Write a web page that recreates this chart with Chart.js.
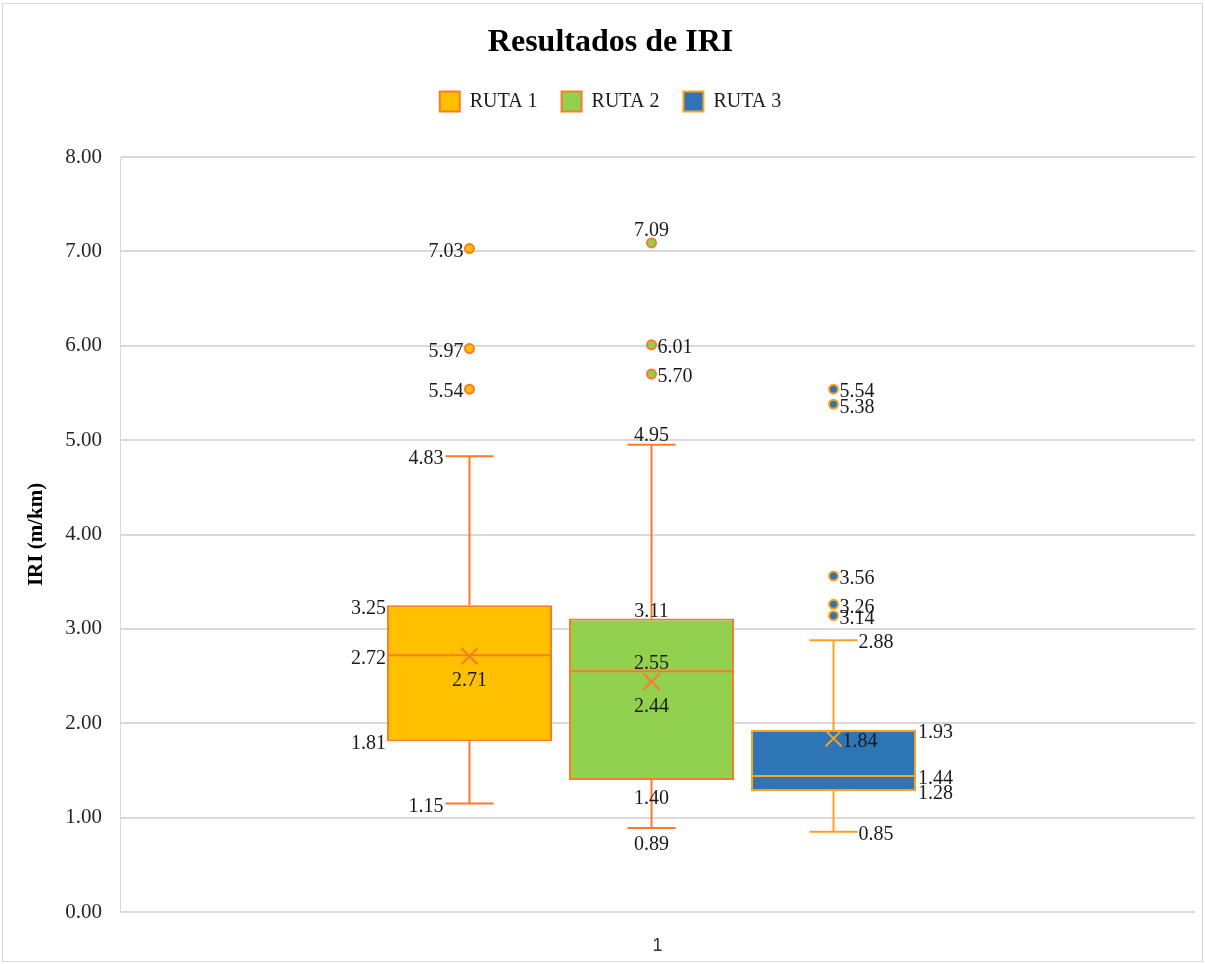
<!DOCTYPE html>
<html>
<head>
<meta charset="utf-8">
<script src="https://cdn.jsdelivr.net/npm/chart.js@4.4.1/dist/chart.umd.min.js"></script>
<style>
html,body{margin:0;padding:0;background:#fff;}
canvas{display:block;}
</style>
</head>
<body>
<canvas id="c" width="1205" height="964"></canvas>
<script>
// ---------- DATA ----------
const categories = ['1'];
const seriesNames = ['RUTA 1', 'RUTA 2', 'RUTA 3'];
const minValues    = [1.15, 0.89, 0.85];
const q1Values     = [1.81, 1.40, 1.28];
const medianValues = [2.72, 2.55, 1.44];
const q3Values     = [3.25, 3.11, 1.93];
const maxValues    = [4.83, 4.95, 2.88];
const meanValues   = [2.71, 2.44, 1.84];
const outliersRuta1 = [5.54, 5.97, 7.03];
const outliersRuta2 = [5.70, 6.01, 7.09];
const outliersRuta3 = [3.14, 3.26, 3.56, 5.38, 5.54];
const outlierValues = [outliersRuta1, outliersRuta2, outliersRuta3];
const yTickValues = [0, 1, 2, 3, 4, 5, 6, 7, 8];

// ---------- STYLE ----------
const boxFill   = ['#FFC000', '#92D050', '#2E75B6'];
const boxBorder = ['#FB7B26', '#FB7B26', '#FCA21E'];
const SERIF = "'Liberation Serif', 'Times New Roman', serif";
const LABEL_FONT = "20px " + SERIF;
const LABEL_COLOR = '#1a1a1a';
const LABEL_DY = 3;
const PLOT_TOP = 157;
const TITLE_H = 24 + 32 * 1.2 + 5;
const HEADER_SHIFT = 13;   // title/legend centred slightly right of canvas centre
const BOX_AREA_TRIM = 12;  // boxes sit slightly left of the category centre
// label placement per series: left / right / above / below
const labelPlacement = [
  {out: ['left', 'left', 'left'], max: 'left', q3: 'left', med: 'left', q1: 'left', min: 'left', mean: 'below'},
  {out: ['right', 'right', 'above'], max: 'above', q3: 'above', med: 'above', q1: 'below', min: 'below', mean: 'below'},
  {out: ['right', 'right', 'right', 'right', 'right'], max: 'right', q3: 'right', med: 'right', q1: 'right', min: 'right', mean: 'right'}
];

const framePlugin = {
  id: 'frame',
  beforeUpdate(chart) {
    const lg = chart.legend;
    if (lg && !lg._patched) {
      const origFit = lg.fit;
      lg.fit = function () { origFit.call(this); this.height = PLOT_TOP - TITLE_H; };
      lg._patched = true;
    }
  },
  afterLayout(chart) {
    if (chart.legend) { chart.legend.left += HEADER_SHIFT; chart.legend.right += HEADER_SHIFT; }
    if (chart.titleBlock) { chart.titleBlock.left += HEADER_SHIFT; chart.titleBlock.right += HEADER_SHIFT; }
    const xb = chart.scales.xb;
    if (xb) { xb.right -= BOX_AREA_TRIM; xb.width = xb.right - xb.left; xb.configure(); }
  },
  beforeDraw(chart) {
    const ctx = chart.ctx;
    ctx.save();
    ctx.fillStyle = '#ffffff';
    ctx.fillRect(0, 0, chart.width, chart.height);
    ctx.strokeStyle = '#d9d9d9';
    ctx.lineWidth = 1;
    ctx.strokeRect(2.5, 3.5, chart.width - 5, chart.height - 6);
    ctx.restore();
  }
};

const boxPlotPlugin = {
  id: 'boxplot',
  afterDatasetsDraw(chart) {
    const ctx = chart.ctx;
    const ys = chart.scales.y;
    const line = (x1, y1, x2, y2) => { ctx.beginPath(); ctx.moveTo(x1, y1); ctx.lineTo(x2, y2); ctx.stroke(); };
    seriesNames.forEach((name, i) => {
      const bar = chart.getDatasetMeta(i).data[0];
      const cx = bar.x;
      const half = bar.width / 2;
      const cap = bar.width * 0.146;
      const yMin = ys.getPixelForValue(minValues[i]);
      const yQ1 = ys.getPixelForValue(q1Values[i]);
      const yMed = ys.getPixelForValue(medianValues[i]);
      const yQ3 = ys.getPixelForValue(q3Values[i]);
      const yMax = ys.getPixelForValue(maxValues[i]);
      const yMean = ys.getPixelForValue(meanValues[i]);
      ctx.save();
      ctx.strokeStyle = boxBorder[i];
      ctx.lineWidth = 2;
      // whiskers
      line(cx, yQ3, cx, yMax);
      line(cx - cap, yMax, cx + cap, yMax);
      line(cx, yQ1, cx, yMin);
      line(cx - cap, yMin, cx + cap, yMin);
      // median
      line(cx - half + 1, yMed, cx + half - 1, yMed);
      // mean marker
      const m = 8;
      line(cx - m, yMean - m, cx + m, yMean + m);
      line(cx - m, yMean + m, cx + m, yMean - m);
      // outliers
      outlierValues[i].forEach(v => {
        const py = ys.getPixelForValue(v);
        ctx.beginPath();
        ctx.arc(cx, py, 4.5, 0, Math.PI * 2);
        ctx.fillStyle = boxFill[i];
        ctx.fill();
        ctx.stroke();
      });
      // labels
      ctx.font = LABEL_FONT;
      ctx.fillStyle = LABEL_COLOR;
      ctx.textBaseline = 'middle';
      const put = (txt, x, y, align) => { ctx.textAlign = align; ctx.fillText(txt, x, y + LABEL_DY); };
      const place = (mode, v, py, leftX, rightX, dUp, dDown) => {
        const txt = v.toFixed(2);
        if (mode === 'left') put(txt, leftX, py, 'right');
        else if (mode === 'right') put(txt, rightX, py, 'left');
        else if (mode === 'above') put(txt, cx, py - dUp, 'center');
        else put(txt, cx, py + dDown, 'center');
      };
      const P = labelPlacement[i];
      outlierValues[i].forEach((v, k) => {
        place(P.out[k], v, ys.getPixelForValue(v), cx - 6, cx + 6, 15, 15);
      });
      place(P.max, maxValues[i], yMax, cx - cap - 2, cx + cap + 1, 12, 14);
      place(P.min, minValues[i], yMin, cx - cap - 2, cx + cap + 1, 12, 14);
      place(P.q3, q3Values[i], yQ3, cx - half - 1, cx + half + 2, 10, 15);
      place(P.med, medianValues[i], yMed, cx - half - 1, cx + half + 2, 11, 15);
      place(P.q1, q1Values[i], yQ1, cx - half - 1, cx + half + 2, 11, 16);
      place(P.mean, meanValues[i], yMean, cx - 10, cx + 9, 22, 22);
      ctx.restore();
    });
  }
};

const datasets = seriesNames.map((name, i) => ({
  label: name,
  data: [[q1Values[i], q3Values[i]]],
  xAxisID: 'xb',
  backgroundColor: boxFill[i],
  borderColor: boxBorder[i],
  borderWidth: 2,
  borderSkipped: false,
  barPercentage: 0.9066,
  categoryPercentage: 0.5137
}));

new Chart(document.getElementById('c'), {
  type: 'bar',
  data: { labels: categories, datasets },
  options: {
    responsive: false,
    animation: false,
    devicePixelRatio: 1,
    layout: { padding: { left: 0, right: 10, top: 0, bottom: 0 } },
    plugins: {
      tooltip: { enabled: false },
      title: {
        display: true,
        text: 'Resultados de IRI',
        color: '#000',
        font: { family: SERIF, size: 32, weight: 'bold', lineHeight: 1.2 },
        padding: { top: 24, bottom: 5 }
      },
      legend: {
        display: true,
        position: 'top',
        labels: {
          color: '#1a1a1a',
          font: { family: SERIF, size: 20 },
          boxWidth: 20,
          boxHeight: 20,
          padding: 24
        }
      }
    },
    scales: {
      x: {
        type: 'category',
        position: 'bottom',
        grid: { display: false },
        border: { display: false },
        ticks: { color: '#333333', font: { family: "'Liberation Sans', Arial, sans-serif", size: 18 }, padding: 15 },
        afterFit(scale) { scale.height = 52; }
      },
      xb: {
        type: 'category',
        position: 'bottom',
        display: false,
        offset: true
      },
      y: {
        min: 0,
        max: 8,
        afterBuildTicks(scale) { scale.ticks = yTickValues.map(v => ({ value: v })); },
        ticks: {
          color: '#262626',
          font: { family: SERIF, size: 21 },
          padding: 18,
          callback: v => Number(v).toFixed(2)
        },
        grid: { color: '#d9d9d9', lineWidth: 2, drawTicks: false },
        border: { display: true, color: '#d9d9d9', width: 1 },
        title: {
          display: true,
          text: 'IRI (m/km)',
          color: '#000',
          font: { family: SERIF, size: 21, weight: 'bold' },
          padding: { top: 24, bottom: 0 }
        },
        afterFit(scale) { scale.width = 120; }
      }
    }
  },
  plugins: [framePlugin, boxPlotPlugin]
});
</script>
</body>
</html>
